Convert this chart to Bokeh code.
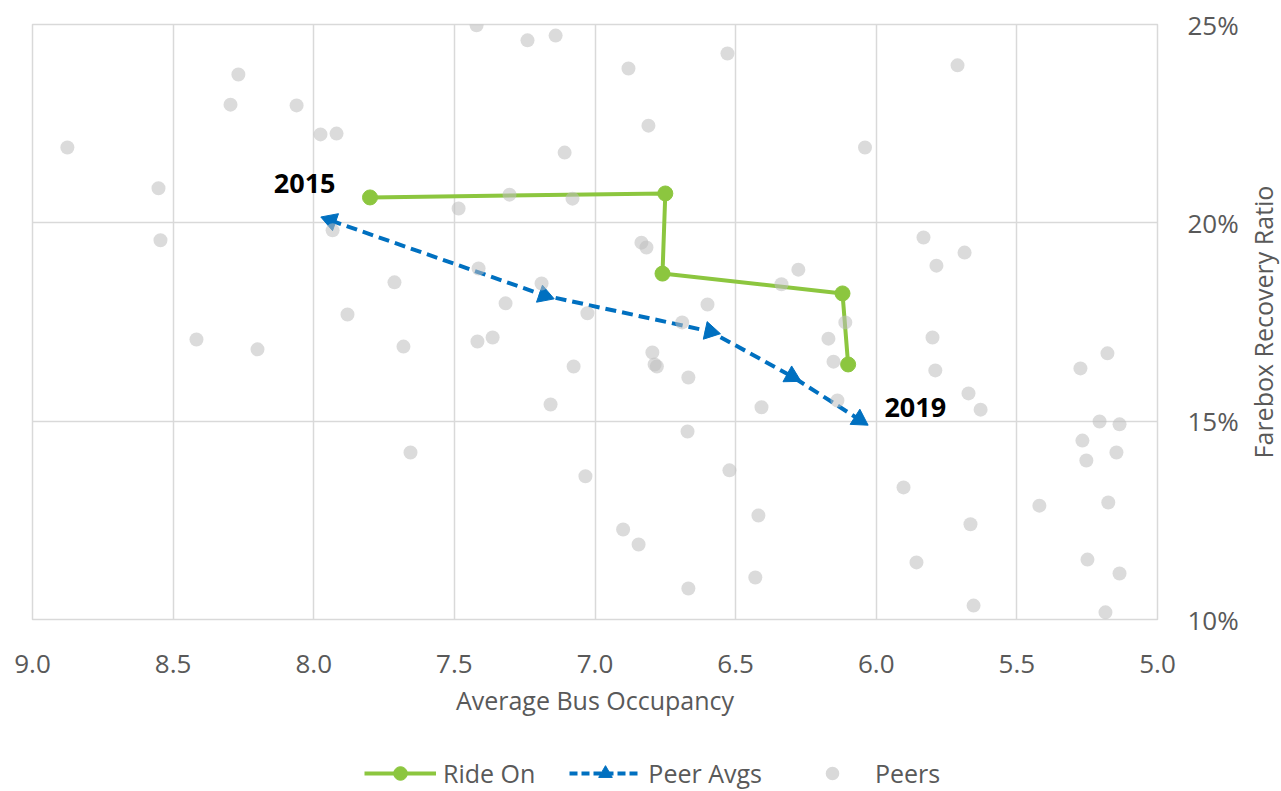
import math
from bokeh.plotting import figure
from bokeh.layouts import column, row
from bokeh.models import (ColumnDataSource, Range1d, FixedTicker, PrintfTickFormatter,
                          Legend, LegendItem)
from bokeh.core.properties import value
from bokeh.embed import file_html
from bokeh.resources import INLINE

# ---------------- data ----------------
ride_on_x = [7.80, 6.75, 6.76, 6.12, 6.10]
ride_on_y = [20.64, 20.74, 18.72, 18.22, 16.43]

peer_avg_x = [7.94, 7.18, 6.59, 6.30, 6.06]
peer_avg_y = [20.06, 18.17, 17.26, 16.13, 15.04]

years = ["2015", "2016", "2017", "2018", "2019"]

peers_x = [8.876, 8.552, 8.545, 8.417, 8.268, 8.296, 8.20, 8.061, 7.976, 7.919,
           7.933, 7.88, 7.713, 7.681, 7.656, 7.421, 7.485, 7.414, 7.418, 7.364,
           7.318, 7.304, 7.24, 7.14, 7.19, 7.108, 7.08, 7.027, 7.076, 7.158,
           7.034, 6.881, 6.81, 6.835, 6.817, 6.796, 6.788, 6.78, 6.69, 6.668,
           6.671, 6.668, 6.60, 6.529, 6.522, 6.419, 6.90, 6.845, 6.43, 6.408,
           6.17, 6.152, 6.138, 6.11, 6.04, 6.277, 6.337, 5.711, 5.832, 5.686,
           5.786, 5.80, 5.79, 5.672, 5.629, 5.903, 5.665, 5.857, 5.654, 5.178,
           5.274, 5.206, 5.135, 5.267, 5.253, 5.146, 5.42, 5.175, 5.249, 5.135,
           5.185]
peers_y = [21.90, 20.87, 19.56, 17.06, 23.74, 22.98, 16.81, 22.96, 22.23, 22.25,
           19.81, 17.69, 18.50, 16.88, 14.21, 24.98, 20.36, 18.85, 17.01, 17.11,
           17.97, 20.71, 24.60, 24.72, 18.47, 21.77, 20.61, 17.72, 16.38, 15.42,
           13.61, 23.89, 22.45, 19.50, 19.38, 16.73, 16.43, 16.38, 17.49, 10.78,
           14.74, 16.10, 17.94, 24.27, 13.76, 12.62, 12.27, 11.89, 11.06, 15.35,
           17.08, 16.50, 15.52, 17.49, 21.90, 18.82, 18.45, 23.97, 19.63, 19.25,
           18.92, 17.11, 16.28, 15.70, 15.29, 13.33, 12.40, 11.44, 10.35, 16.71,
           16.33, 14.99, 14.92, 14.51, 14.01, 14.21, 12.87, 12.95, 11.51, 11.16,
           10.18]

x_ticks = [5.0, 5.5, 6.0, 6.5, 7.0, 7.5, 8.0, 8.5, 9.0]
y_ticks = [10, 15, 20, 25]

x_title = "Average Bus Occupancy"
y_title = "Farebox Recovery Ratio"

# ---------------- styles ----------------
FONT = "Open Sans"
TXT = "#595959"
GREEN = "#8cc63f"
BLUE = "#0070c0"
GRID = "#d9d9d9"

TOTAL_W = 1280
TITLE_W = 36
W = TOTAL_W - TITLE_W
LEG_H = 46
H = 790 - LEG_H
LEFT, TOP = 32, 24
FRAME_W, FRAME_H = 1125, 595

p = figure(width=W, height=H, output_backend="svg", toolbar_location=None,
           x_range=Range1d(9.0, 5.0), y_range=Range1d(10, 25),
           y_axis_location="right")
p.min_border_left = LEFT
p.min_border_top = TOP
p.min_border_right = W - LEFT - FRAME_W
p.min_border_bottom = H - TOP - FRAME_H
p.outline_line_color = GRID
p.outline_line_width = 1.5
p.background_fill_color = "white"
p.border_fill_color = "white"

p.xaxis.ticker = FixedTicker(ticks=x_ticks)
p.xaxis.formatter = PrintfTickFormatter(format="%.1f")
p.yaxis.ticker = FixedTicker(ticks=y_ticks)
p.yaxis.formatter = PrintfTickFormatter(format="%d%%")
for ax in (p.xaxis[0], p.yaxis[0]):
    ax.major_tick_line_color = None
    ax.minor_tick_line_color = None
    ax.major_tick_out = 0
    ax.major_tick_in = 0
    ax.axis_line_color = None
    ax.major_label_text_font = FONT
    ax.major_label_text_font_size = "26px"
    ax.major_label_text_color = TXT
    ax.axis_label_text_font = FONT
    ax.axis_label_text_font_size = "25px"
    ax.axis_label_text_color = TXT
    ax.axis_label_text_font_style = "normal"
p.xaxis.axis_label = x_title
p.xaxis.major_label_standoff = 35
p.xaxis.axis_label_standoff = 7
p.yaxis.major_label_standoff = 30

p.xgrid.ticker = FixedTicker(ticks=x_ticks)
p.ygrid.ticker = FixedTicker(ticks=y_ticks)
p.grid.grid_line_color = GRID
p.grid.grid_line_width = 1.5

# triangle orientation along the peer-average path (screen space)
px_per_x = FRAME_W / 4.0
px_per_y = FRAME_H / 15.0
angles = []
n = len(peer_avg_x)
for i in range(n):
    a, b = (1, 0) if i == 0 else (i - 1, i)
    dxs = -(peer_avg_x[b] - peer_avg_x[a]) * px_per_x
    dys = (peer_avg_y[b] - peer_avg_y[a]) * px_per_y
    angles.append(math.atan2(dys, dxs) - math.pi / 2)

ride_src = ColumnDataSource(dict(x=ride_on_x, y=ride_on_y))
peer_avg_src = ColumnDataSource(dict(x=peer_avg_x, y=peer_avg_y, angle=angles, year=years))
peers_src = ColumnDataSource(dict(x=peers_x, y=peers_y))

p.line("x", "y", source=ride_src, line_color=GREEN, line_width=4)
p.scatter("x", "y", source=ride_src, marker="circle", size=15,
          fill_color=GREEN, line_color=GREEN)
p.line("x", "y", source=peer_avg_src, line_color=BLUE, line_width=4, line_dash="11 6")
p.scatter("x", "y", source=peer_avg_src, marker="triangle", size=18, angle="angle",
          fill_color=BLUE, line_color=BLUE)

p.scatter("x", "y", source=peers_src, marker="circle", size=14,
          fill_color="#bdbdbd", fill_alpha=0.55, line_color=None)

first = ColumnDataSource(dict(x=[peer_avg_x[0]], y=[peer_avg_y[0]], t=[years[0]]))
last = ColumnDataSource(dict(x=[peer_avg_x[-1]], y=[peer_avg_y[-1]], t=[years[-1]]))
p.text("x", "y", text="t", source=first, text_font=value(FONT), text_font_style="bold",
       text_font_size="27px", text_color="black", text_align="center",
       text_baseline="middle", x_offset=-26, y_offset=-37)
p.text("x", "y", text="t", source=last, text_font=value(FONT), text_font_style="bold",
       text_font_size="27px", text_color="black", text_align="left",
       text_baseline="middle", x_offset=25, y_offset=-12)

# ---------------- vertical axis title strip ----------------
tf = figure(width=TITLE_W, height=H, output_backend="svg", toolbar_location=None,
            x_axis_location=None, y_axis_location=None,
            x_range=Range1d(0, 1), y_range=Range1d(0, 1))
tf.min_border_left = 0
tf.min_border_right = 0
tf.min_border_top = TOP
tf.min_border_bottom = H - TOP - FRAME_H
tf.outline_line_color = None
tf.grid.visible = False
tf.border_fill_color = "white"
tsrc = ColumnDataSource(dict(x=[0.5], y=[0.5], t=[y_title]))
tf.text("x", "y", text="t", source=tsrc, angle=math.pi / 2,
        text_font=value(FONT), text_font_size="25px", text_color=TXT,
        text_align="center", text_baseline="middle")

# ---------------- legend strip ----------------
lf = figure(width=TOTAL_W, height=LEG_H, output_backend="svg", toolbar_location=None,
            x_axis_location=None, y_axis_location=None,
            x_range=Range1d(100, 101), y_range=Range1d(100, 101))
lf.min_border_left = 0
lf.min_border_right = 0
lf.min_border_top = 0
lf.min_border_bottom = 0
lf.outline_line_color = None
lf.grid.visible = False
lf.border_fill_color = "white"

# legend glyphs: the same series, outside this strip's visible range
lg_l1 = lf.line("x", "y", source=ride_src, line_color=GREEN, line_width=4)
lg_m1 = lf.scatter("x", "y", source=ride_src, marker="circle", size=15,
                   fill_color=GREEN, line_color=GREEN)
lg_l2 = lf.line("x", "y", source=peer_avg_src, line_color=BLUE, line_width=4, line_dash="8 4")
lg_m2 = lf.scatter("x", "y", source=peer_avg_src, marker="triangle", size=17,
                   fill_color=BLUE, line_color=BLUE)
lg_m3 = lf.scatter("x", "y", source=peers_src, marker="circle", size=13,
                   fill_color="#d9d9d9", line_color=None)

legend = Legend(items=[
    LegendItem(label="Ride On", renderers=[lg_l1, lg_m1]),
    LegendItem(label="Peer Avgs", renderers=[lg_l2, lg_m2]),
    LegendItem(label="Peers", renderers=[lg_m3]),
], orientation="horizontal", location=(364, 0))
legend.padding = 0
legend.margin = 0
legend.spacing = 34
legend.glyph_width = 72
legend.glyph_height = 34
legend.label_height = 34
legend.label_standoff = 7
legend.label_text_font = FONT
legend.label_text_font_size = "25px"
legend.label_text_color = TXT
legend.border_line_color = None
legend.background_fill_alpha = 0
lf.add_layout(legend, "center")

layout = column(row(p, tf, spacing=0), lf, spacing=0)
open("out.html", "w").write(file_html(layout, INLINE))
